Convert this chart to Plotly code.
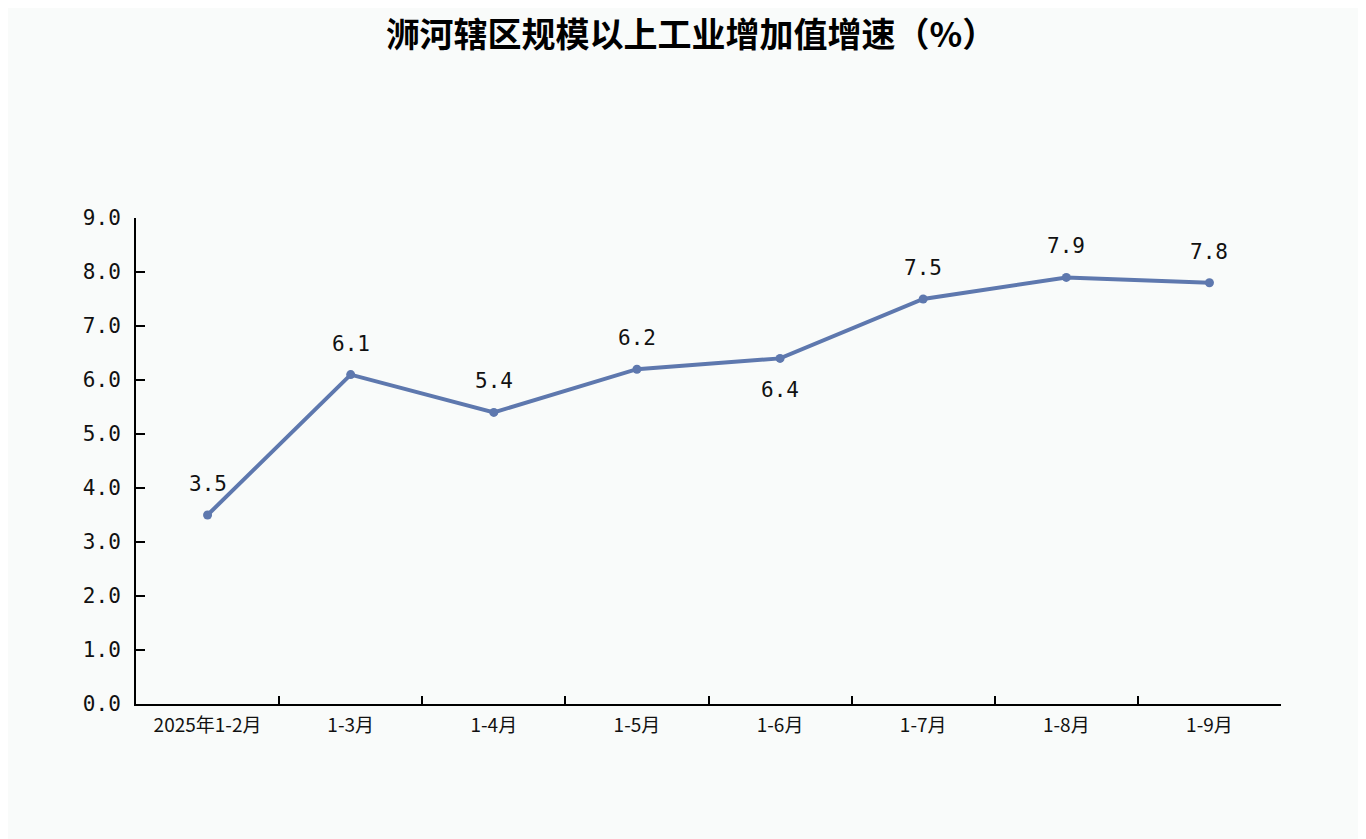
import plotly.graph_objects as go

# data
periods = ['2025年1-2月', '1-3月', '1-4月', '1-5月', '1-6月', '1-7月', '1-8月', '1-9月']
growth = [3.5, 6.1, 5.4, 6.2, 6.4, 7.5, 7.9, 7.8]
label_below = ['1-6月']
y_ticks = [0, 1, 2, 3, 4, 5, 6, 7, 8, 9]

line_color = '#5E78AE'
bg = '#F9FBFA'
num_font = 'DejaVu Sans Mono'
cjk_font = 'Noto Sans CJK SC'

fig = go.Figure()
fig.add_trace(go.Scatter(
    x=periods, y=growth, mode='lines+markers',
    line=dict(color=line_color, width=4),
    marker=dict(color=line_color, size=9),
    hoverinfo='x+y', showlegend=False,
))

# value labels
for p, v in zip(periods, growth):
    fig.add_annotation(
        x=p, y=v, text=f'{v:.1f}', showarrow=False,
        yshift=-32 if p in label_below else 31,
        font=dict(family=num_font, size=21, color='#111111'),
    )

# page body adds 8px, margins compensate for it
fig.update_layout(
    width=1366, height=839,
    paper_bgcolor=bg, plot_bgcolor=bg,
    margin=dict(l=128, r=93, t=210, b=143),
    title=dict(
        text='<b>浉河辖区规模以上工业增加值增速（%）</b>',
        x=0.5, xanchor='center', y=1 - 27 / 839, yanchor='middle',
        yref='container',
        font=dict(family=cjk_font, size=34, color='#000000'),
    ),
)
fig.update_xaxes(
    type='category', range=[-0.5, len(periods) - 0.5],
    tickson='boundaries', ticks='inside', ticklen=8,
    tickwidth=2, tickcolor='#000000',
    showline=True, linecolor='#000000', linewidth=2,
    showgrid=False, zeroline=False, ticklabelstandoff=3,
    tickfont=dict(family=cjk_font, size=19, color='#111111'),
)
fig.update_yaxes(
    range=[0, 9], tickvals=y_ticks, ticktext=[f'{t:.1f}' for t in y_ticks],
    ticks='inside', ticklen=9, tickwidth=2, tickcolor='#000000',
    showline=True, linecolor='#000000', linewidth=2,
    showgrid=False, zeroline=False, ticklabelstandoff=9,
    tickfont=dict(family=num_font, size=21, color='#111111'),
)

fig.write_html('out.html')
